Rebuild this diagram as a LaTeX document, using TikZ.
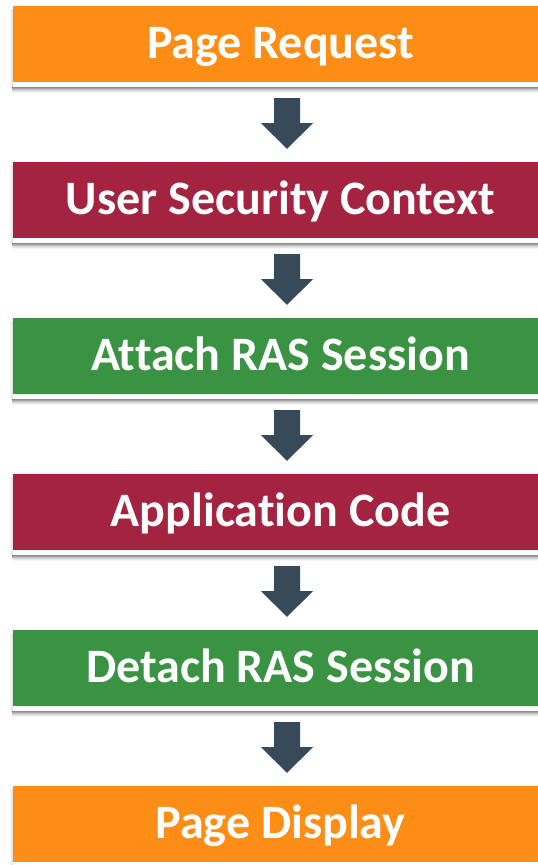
\documentclass[tikz,border=0pt]{standalone}
\usepackage{fontspec}
\setmainfont{Carlito}[Ligatures=NoCommon]
\usetikzlibrary{calc}
\definecolor{borange}{RGB}{253,141,20}
\definecolor{bcrimson}{RGB}{163,35,64}
\definecolor{bgreen}{RGB}{58,146,67}
\definecolor{arrowc}{RGB}{55,74,90}
\tikzset{
  px/.style={x=1pt,y=-1pt},
  stage/.style={rectangle, minimum width=535pt, minimum height=76pt, inner sep=0pt,
    text height=29pt, text depth=0pt,
    text=white, font=\fontsize{48}{52}\selectfont\bfseries},
  blockarrow/.style={fill=arrowc, draw=none}
}
\newcommand{\shadowunder}[1]{%
  \fill[white] ($(#1.south west)$) rectangle ($(#1.south east)+(0,-5pt)$);
  \foreach \i/\o in {0/0.45,1/0.35,2/0.25,3/0.16,4/0.09,5/0.04}{
    \fill[black,opacity=\o] ($(#1.south west)+(-1pt,-5pt-\i pt)$) rectangle ($(#1.south east)+(0,-6pt-\i pt)$);
  }
  \foreach \i/\o in {0/0.12,1/0.07,2/0.03}{
    \fill[black,opacity=\o] ($(#1.north west)+(-1pt-\i pt,-3pt)$) rectangle ($(#1.south west)+(-\i pt,-6pt)$);
  }
}
\begin{document}
\begin{tikzpicture}[px]
\useasboundingbox (0,0) rectangle (538,865);
\clip (0,0) rectangle (538,865);
\fill[white] (0,0) rectangle (538,865);
\node[stage, fill=borange]   (n1) at (280.5,44)  {Page Request};
\node[stage, fill=bcrimson]  (n2) at (280.5,200) {User Security Context};
\node[stage, fill=bgreen]    (n3) at (280.5,356) {Attach RAS Session};
\node[stage, fill=bcrimson]  (n4) at (280.5,512) {Application Code};
\node[stage, fill=bgreen]    (n5) at (280.5,668) {Detach RAS Session};
\node[stage, fill=borange]   (n6) at (280.5,824) {Page Display};
\foreach \n in {n1,n2,n3,n4,n5,n6}{\shadowunder{\n}}
\foreach \a/\b in {n1/n2,n2/n3,n3/n4,n4/n5,n5/n6}{
  \fill[blockarrow] ($(\a.south)+(-6.5,16)$) -- ($(\a.south)+(19.5,16)$)
    -- ($(\a.south)+(19.5,41)$) -- ($(\a.south)+(32.5,41)$)
    -- ($(\b.north)+(6.5,-13)$) -- ($(\a.south)+(-19.5,41)$)
    -- ($(\a.south)+(-6.5,41)$) -- cycle;
}
\end{tikzpicture}
\end{document}
